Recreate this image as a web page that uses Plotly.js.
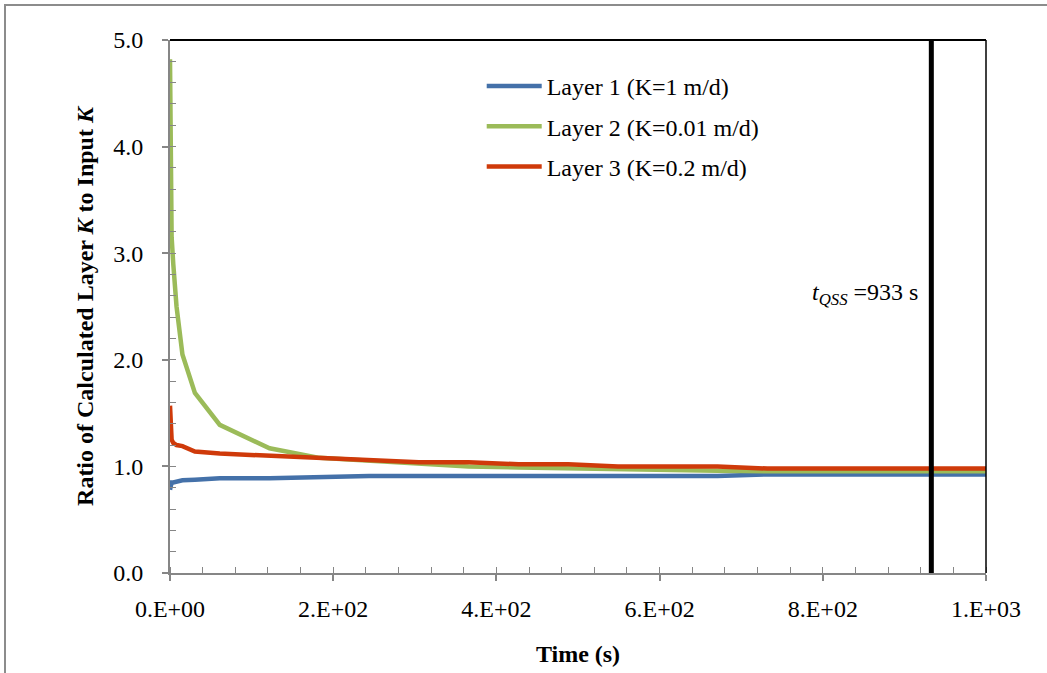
<!DOCTYPE html>
<html>
<head>
<meta charset="utf-8">
<script src="https://cdn.plot.ly/plotly-3.0.1.min.js"></script>
<style>body{margin:0;padding:0;background:#fff}#chart{width:1047px;height:673px}</style>
</head>
<body>
<div id="chart"></div>
<script>
// Time (s)
var time = [0, 0.5, 1, 2, 4, 8, 15.25, 30.5, 61, 122, 183, 244, 305, 366, 427, 488, 549, 610, 671, 732, 793, 854, 915, 976, 1000];
// Layer 1 (K=1 m/d)
var layer1 = [0.78, 0.82, 0.84, 0.85, 0.85, 0.86, 0.87, 0.875, 0.89, 0.89, 0.905, 0.91, 0.91, 0.91, 0.91, 0.91, 0.91, 0.91, 0.91, 0.925, 0.925, 0.925, 0.925, 0.925, 0.925];
// Layer 2 (K=0.01 m/d)
var layer2 = [4.82, 4.0, 3.5, 3.15, 2.9, 2.5, 2.05, 1.69, 1.39, 1.17, 1.08, 1.05, 1.02, 1.0, 0.99, 0.98, 0.97, 0.96, 0.96, 0.955, 0.955, 0.955, 0.955, 0.955, 0.955];
// Layer 3 (K=0.2 m/d)
var layer3 = [1.57, 1.35, 1.28, 1.25, 1.22, 1.2, 1.19, 1.14, 1.12, 1.1, 1.08, 1.06, 1.04, 1.04, 1.02, 1.02, 1.0, 1.0, 1.0, 0.98, 0.98, 0.98, 0.98, 0.98, 0.98];
var seriesNames = ["Layer 1 (K=1 m/d)", "Layer 2 (K=0.01 m/d)", "Layer 3 (K=0.2 m/d)"];
var seriesColors = ["#4471A9", "#9BBB59", "#CF3A0A"];
var tQSS = 933;
var xTickVals = [0, 200, 400, 600, 800, 1000];
var xTickText = ["0.E+00", "2.E+02", "4.E+02", "6.E+02", "8.E+02", "1.E+03"];

var serif = "Liberation Serif, Times New Roman, serif";
var ys = [layer1, layer2, layer3];
var traces = ys.map(function (y, i) {
  return {
    x: time, y: y, type: "scatter", mode: "lines",
    name: seriesNames[i], legendgroup: "g" + i,
    line: {color: seriesColors[i], width: 4.5}
  };
});

var layout = {
  width: 1047, height: 673,
  margin: {l: 170, r: 61, t: 40, b: 100},
  paper_bgcolor: "#fff", plot_bgcolor: "#fff",
  font: {family: serif, size: 24, color: "#000"},
  showlegend: true,
  legend: {
    x: 0.382, y: 0.955, xanchor: "left", yanchor: "top",
    bgcolor: "rgba(0,0,0,0)", borderwidth: 0,
    font: {family: serif, size: 24, color: "#000"},
    tracegroupgap: 6, itemwidth: 55
  },
  xaxis: {
    range: [0, 1000], showgrid: false, zeroline: false,
    showline: true, linecolor: "#868686", linewidth: 2,
    tickmode: "array", tickvals: xTickVals, ticktext: xTickText,
    ticks: "outside", ticklen: 6, tickwidth: 2, tickcolor: "#868686",
    ticklabelstandoff: 7,
    minor: {dtick: 40, ticks: "inside", ticklen: 6, tickwidth: 1, tickcolor: "#868686", showgrid: false},
    tickfont: {family: serif, size: 24, color: "#000"},
    title: {text: "<b>Time (s)</b>", font: {family: serif, size: 24, color: "#000"}, standoff: 24}
  },
  yaxis: {
    range: [0, 5], showgrid: false, zeroline: false,
    showline: true, linecolor: "#868686", linewidth: 2,
    dtick: 1, tickformat: ".1f",
    ticks: "outside", ticklen: 6, tickwidth: 2, tickcolor: "#868686",
    ticklabelstandoff: 14,
    minor: {dtick: 0.2, ticks: "inside", ticklen: 6, tickwidth: 1, tickcolor: "#868686", showgrid: false},
    tickfont: {family: serif, size: 24, color: "#000"},
    title: {text: "<b>Ratio of Calculated Layer <i>K</i> to Input <i>K</i></b>", font: {family: serif, size: 24, color: "#000"}, standoff: 13}
  },
  shapes: [
    {type: "line", xref: "paper", yref: "paper", x0: 0, x1: 1, y0: 1, y1: 1, line: {color: "#000", width: 2}},
    {type: "line", xref: "paper", yref: "paper", x0: 1, x1: 1, y0: 0, y1: 1, line: {color: "#000", width: 1.5}},
    {type: "line", xref: "x", yref: "y", x0: tQSS, x1: tQSS, y0: 0, y1: 5, line: {color: "#000", width: 5}},
    {type: "rect", xref: "paper", yref: "paper", x0: -0.2022, x1: 1.078, y0: -0.3, y1: 1.0657, line: {color: "#8C8C8C", width: 2}, layer: "below"}
  ],
  annotations: [
    {xref: "x", yref: "y", x: tQSS - 14, y: 2.62, xanchor: "right", yanchor: "middle", showarrow: false,
     text: "<i>t</i><sub><i>QSS</i></sub> =933 s", font: {family: serif, size: 24, color: "#000"}}
  ]
};

Plotly.newPlot("chart", traces, layout, {displayModeBar: false, staticPlot: true});
</script>
</body>
</html>
